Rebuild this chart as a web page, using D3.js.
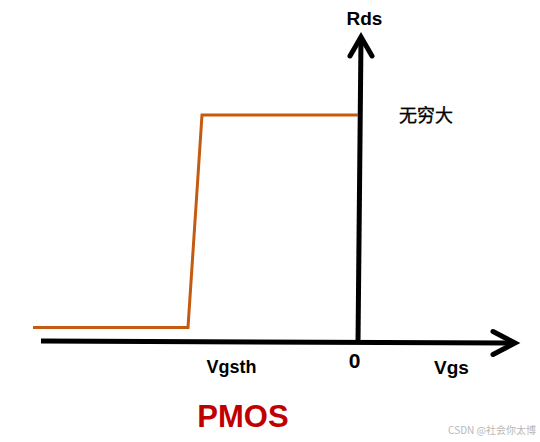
<!DOCTYPE html>
<html><head><meta charset="utf-8">
<script src="https://cdn.jsdelivr.net/npm/d3@7"></script>
<style>body{margin:0;background:#fff}svg{display:block}</style>
</head><body>
<svg id="c" width="540" height="442"></svg>
<script>
// Data: PMOS Rds vs Vgs (schematic)
const vgs = [-3.25, -1.70, -1.56, 0];
const rds = [0.06, 0.06, 1, 1];
const xLabels = ["Vgsth", "0", "Vgs"];
const yLabels = ["Rds", "无穷大"];
const title = "PMOS";

const svg = d3.select("#c");
const x = d3.scaleLinear().domain([-3.25, 0]).range([33, 358]);
const y = d3.scaleLinear().domain([0, 1]).range([341, 115]);

const ax = svg.append("g").attr("fill","none").attr("stroke","#000").attr("stroke-width",5);
// horizontal axis (slightly tilted as in the hand-drawn original)
const xEnd = x(1.57), yEnd = y(0) + 2;
ax.append("line").attr("x1",41).attr("x2",xEnd-2).attr("y1",y(0)).attr("y2",yEnd);
ax.append("path").attr("stroke-linejoin","miter").attr("stroke-linecap","round")
  .attr("d",`M${xEnd-22},${yEnd-11.5}L${xEnd},${yEnd}L${xEnd-22},${yEnd+11.5}`);
// vertical axis
const vTopX = x(0) + 3;
ax.append("line").attr("x1",x(0)).attr("x2",vTopX).attr("y1",y(0)+2).attr("y2",38);
ax.append("path").attr("stroke-linecap","round")
  .attr("d",`M${vTopX-11},56L${vTopX},37L${vTopX+11},56`);

// orange line
const line = d3.line().x((d,i)=>x(vgs[i])).y((d,i)=>y(rds[i]));
svg.append("path").datum(vgs).attr("d",line).attr("fill","none")
  .attr("stroke","#c55a11").attr("stroke-width",3);

const font = "Arial, 'Liberation Sans', sans-serif";
svg.append("text").attr("x",364.5).attr("y",25).attr("text-anchor","middle")
  .attr("font-family",font).attr("font-weight","bold").attr("font-size",19).text(yLabels[0]);
svg.append("text").attr("x",399).attr("y",122)
  .attr("font-family","'Noto Sans CJK SC', sans-serif").attr("font-size",18)
  .attr("stroke","#000").attr("stroke-width",0.35).text(yLabels[1]);
svg.append("text").attr("x",231.5).attr("y",373).attr("text-anchor","middle")
  .attr("font-family",font).attr("font-weight","bold").attr("font-size",18).text(xLabels[0]);
svg.append("text").attr("x",354.5).attr("y",368).attr("text-anchor","middle")
  .attr("font-family",font).attr("font-weight","bold").attr("font-size",21).text(xLabels[1]);
svg.append("text").attr("x",451.5).attr("y",374).attr("text-anchor","middle")
  .attr("font-family",font).attr("font-weight","bold").attr("font-size",19).text(xLabels[2]);
svg.append("text").attr("x",243).attr("y",427).attr("text-anchor","middle")
  .attr("font-family",font).attr("font-weight","bold").attr("font-size",31)
  .attr("fill","#c00000").text(title);
svg.append("text").attr("x",536).attr("y",434).attr("text-anchor","end")
  .attr("font-family","'Noto Sans CJK SC', sans-serif").attr("font-size",10)
  .attr("fill","#b8b8b8").text("CSDN @社会你太博");
</script>
</body></html>
